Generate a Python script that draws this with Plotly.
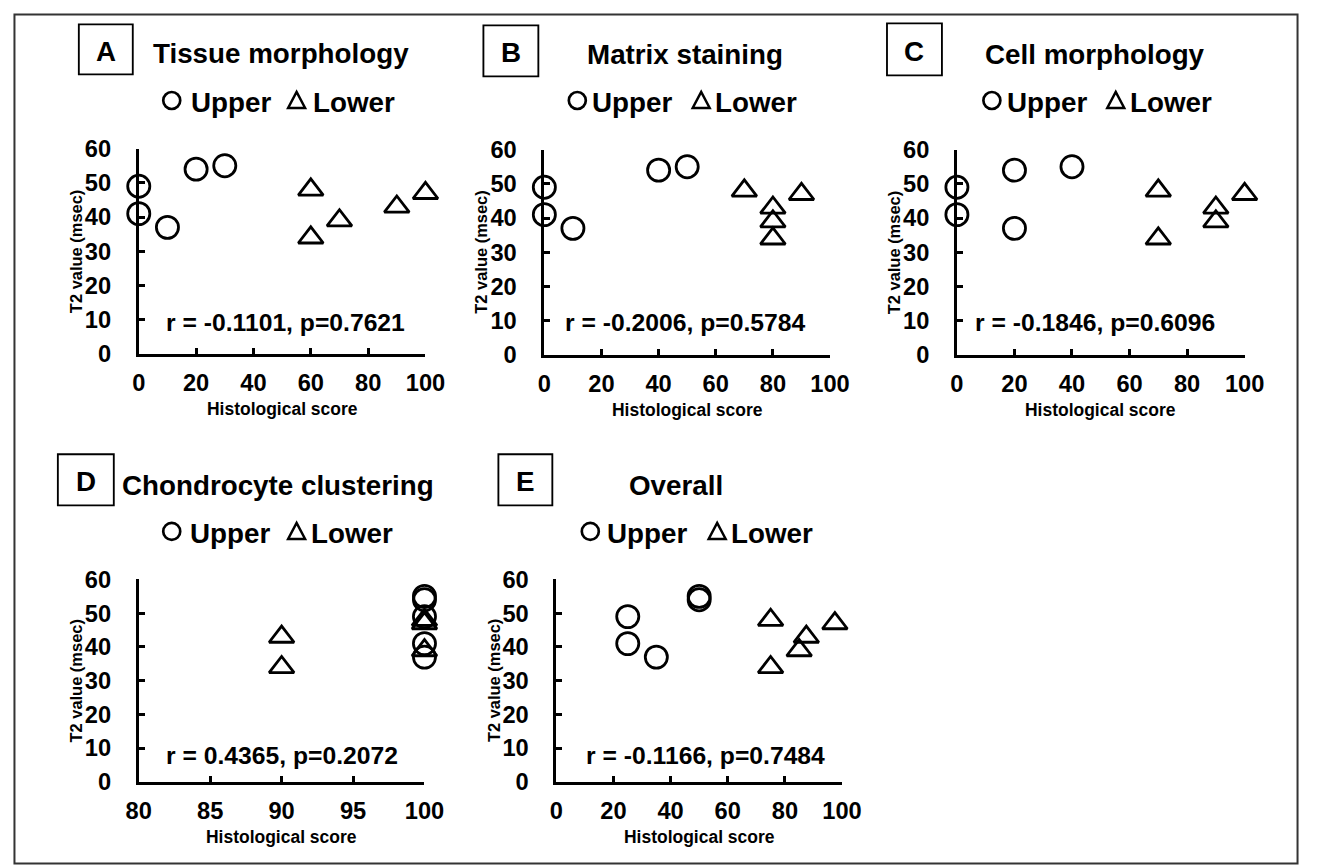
import plotly.graph_objects as go

W, H = 1319, 868

# ---------------- data ----------------
panel_letters = ["A", "B", "C", "D", "E"]
panel_titles = ["Tissue morphology", "Matrix staining", "Cell morphology",
                "Chondrocyte clustering", "Overall"]
stats_text = ["r = -0.1101, p=0.7621", "r = -0.2006, p=0.5784", "r = -0.1846, p=0.6096",
              "r = 0.4365, p=0.2072", "r = -0.1166, p=0.7484"]

upper_t2 = [49, 41, 37, 54, 55]
lower_t2 = [48, 34, 39, 43, 47]

upper_score_A = [0, 0, 10, 20, 30]
lower_score_A = [60, 60, 70, 90, 100]
upper_score_B = [0, 0, 10, 40, 50]
lower_score_B = [70, 80, 80, 80, 90]
upper_score_C = [0, 0, 20, 20, 40]
lower_score_C = [70, 70, 90, 90, 100]
upper_score_D = [100, 100, 100, 100, 100]
lower_score_D = [100, 90, 100, 90, 100]
upper_score_E = [25, 25, 35, 50, 50]
lower_score_E = [75, 75, 85, 87.5, 97.5]

x_ranges = [[0, 100], [0, 100], [0, 100], [80, 100], [0, 100]]
x_dticks = [20, 20, 20, 5, 20]
y_ticks = [0, 10, 20, 30, 40, 50, 60]
y_title = "T2 value (msec)"
x_title = "Histological score"
legend_names = ["Upper", "Lower"]

upper_scores = [upper_score_A, upper_score_B, upper_score_C, upper_score_D, upper_score_E]
lower_scores = [lower_score_A, lower_score_B, lower_score_C, lower_score_D, lower_score_E]

# ---------------- layout (target pixels) ----------------
plot_px = [  # x0, x1, ytop, ybottom
    (138, 425, 150, 355),
    (544, 830, 151, 356),
    (957, 1245, 151, 356),
    (138, 424, 580, 782),
    (556, 842, 580, 782),
]
box_px = [(78, 132, 26, 76), (483, 538, 27, 78), (887, 942, 25, 77),
          (57, 113, 455, 506), (498, 552, 455, 506)]
title_pos = [(150, 55, "left"), (585, 56, "left"), (983, 56, "left"),
             (119, 486, "left"), (676, 486, "center")]
legend_pos = [  # circle cx, Upper left, triangle cx, Lower left, y
    (171, 188, 296, 310, 104),
    (577, 590, 701, 713, 104),
    (992, 1005, 1116, 1128, 104),
    (171, 187, 296, 308, 534),
    (590, 605, 717, 729, 534),
]
stats_pos = [(285, 324), (685, 324), (1095, 324), (281, 756), (705, 756)]

FONT = "Liberation Sans, Arial, Helvetica, sans-serif"

# the page is photographed slightly shrunk; compensate
SX, BX = 0.976, 12.1
SY, BY = 0.968, 14.7
K = 1 / 0.972


def fx(px):
    return ((px - BX) / SX) / W


def fy(py):
    return 1 - ((py - BY) / SY) / H


def fs(v):
    return v * K


fig = go.Figure()
shapes = []
annotations = []

for i in range(5):
    ax = "" if i == 0 else str(i + 1)
    x0, x1, yt, yb = plot_px[i]
    fig.add_trace(go.Scatter(
        x=upper_scores[i], y=upper_t2, mode="markers", name=legend_names[0],
        xaxis="x" + ax, yaxis="y" + ax, cliponaxis=False, showlegend=False,
        marker=dict(symbol="circle", size=fs(21.5), color="rgba(0,0,0,0)",
                    line=dict(color="black", width=fs(2.7)))))
    fig.add_trace(go.Scatter(
        x=lower_scores[i], y=lower_t2, mode="markers", name=legend_names[1],
        xaxis="x" + ax, yaxis="y" + ax, cliponaxis=False, showlegend=False,
        marker=dict(symbol="triangle-up", size=fs(21), color="rgba(0,0,0,0)",
                    line=dict(color="black", width=fs(2.7)))))

    xa = dict(domain=[fx(x0), fx(x1)], range=x_ranges[i], dtick=x_dticks[i],
              tick0=x_ranges[i][0], anchor="y" + ax,
              showline=True, linecolor="black", linewidth=fs(2.6),
              ticks="inside", ticklen=fs(6), tickwidth=fs(2.6), tickcolor="black",
              showgrid=False, zeroline=False, ticklabelstandoff=6,
              tickfont=dict(family=FONT, size=fs(23), color="black", weight=700))
    ya = dict(domain=[fy(yb), fy(yt)], range=[0, 60], tickvals=y_ticks,
              anchor="x" + ax,
              showline=True, linecolor="black", linewidth=fs(2.6),
              ticks="inside", ticklen=fs(6), tickwidth=fs(2.6), tickcolor="black",
              showgrid=False, zeroline=False, ticklabelstandoff=20,
              tickfont=dict(family=FONT, size=fs(23), color="black", weight=700))
    fig.update_layout(**{"xaxis" + ax: xa, "yaxis" + ax: ya})

    # axis titles
    annotations.append(dict(text=y_title, x=fx(x0 - 63), y=fy((yt + yb) / 2),
                            xref="paper", yref="paper", textangle=-90, showarrow=False,
                            xanchor="center", yanchor="middle",
                            font=dict(family=FONT, size=fs(16), color="black", weight=700)))
    annotations.append(dict(text=x_title, x=fx((x0 + x1) / 2), y=fy(yb + 55),
                            xref="paper", yref="paper", showarrow=False,
                            xanchor="center", yanchor="middle",
                            font=dict(family=FONT, size=fs(17), color="black", weight=700)))
    # stats
    sx, sy = stats_pos[i]
    annotations.append(dict(text=stats_text[i], x=fx(sx), y=fy(sy),
                            xref="paper", yref="paper", showarrow=False,
                            xanchor="center", yanchor="middle",
                            font=dict(family=FONT, size=fs(24), color="black", weight=700)))
    # letter box
    bx0, bx1, by0, by1 = box_px[i]
    shapes.append(dict(type="rect", xref="paper", yref="paper",
                       x0=fx(bx0), x1=fx(bx1), y0=fy(by1), y1=fy(by0),
                       line=dict(color="black", width=fs(1.8))))
    annotations.append(dict(text=panel_letters[i], x=fx((bx0 + bx1) / 2), y=fy((by0 + by1) / 2 + 2),
                            xref="paper", yref="paper", showarrow=False,
                            xanchor="center", yanchor="middle",
                            font=dict(family=FONT, size=fs(27), color="black", weight=700)))
    tx, ty, tanchor = title_pos[i]
    annotations.append(dict(text=panel_titles[i], x=fx(tx), y=fy(ty),
                            xref="paper", yref="paper", showarrow=False,
                            xanchor=tanchor, yanchor="middle",
                            font=dict(family=FONT, size=fs(27), color="black", weight=700)))
    # legend
    ccx, ulx, tcx, llx, ly = legend_pos[i]
    r = 8.5
    shapes.append(dict(type="circle", xref="paper", yref="paper",
                       x0=fx(ccx - r), x1=fx(ccx + r), y0=fy(ly - 2 + r), y1=fy(ly - 2 - r),
                       line=dict(color="black", width=fs(2.6))))
    th = 7.5
    shapes.append(dict(type="path", xref="paper", yref="paper",
                       path=f"M {fx(tcx - 8.5)} {fy(ly - 2 + th)} L {fx(tcx + 8.5)} {fy(ly - 2 + th)} "
                            f"L {fx(tcx)} {fy(ly - 2 - th - 1)} Z",
                       line=dict(color="black", width=fs(2.4))))
    annotations.append(dict(text=legend_names[0], x=fx(ulx), y=fy(ly),
                            xref="paper", yref="paper", showarrow=False,
                            xanchor="left", yanchor="middle",
                            font=dict(family=FONT, size=fs(27), color="black", weight=700)))
    annotations.append(dict(text=legend_names[1], x=fx(llx), y=fy(ly),
                            xref="paper", yref="paper", showarrow=False,
                            xanchor="left", yanchor="middle",
                            font=dict(family=FONT, size=fs(27), color="black", weight=700)))

# outer frame: inner one on the canvas edge, plus the target one (may lie off-canvas)
shapes.append(dict(type="rect", xref="paper", yref="paper",
                   x0=1.5 / W, x1=1 - 1.5 / W, y0=-0.01, y1=1 - 1.5 / H,
                   line=dict(color="#333333", width=2)))

fig.update_layout(width=W, height=H, margin=dict(l=0, r=0, t=0, b=0),
                  paper_bgcolor="white", plot_bgcolor="white",
                  shapes=shapes, annotations=annotations, showlegend=False)

fig.write_html("out.html", config={"displayModeBar": False},
               post_script="document.body.style.margin='0px';"
                           "document.body.style.overflow='hidden';")
